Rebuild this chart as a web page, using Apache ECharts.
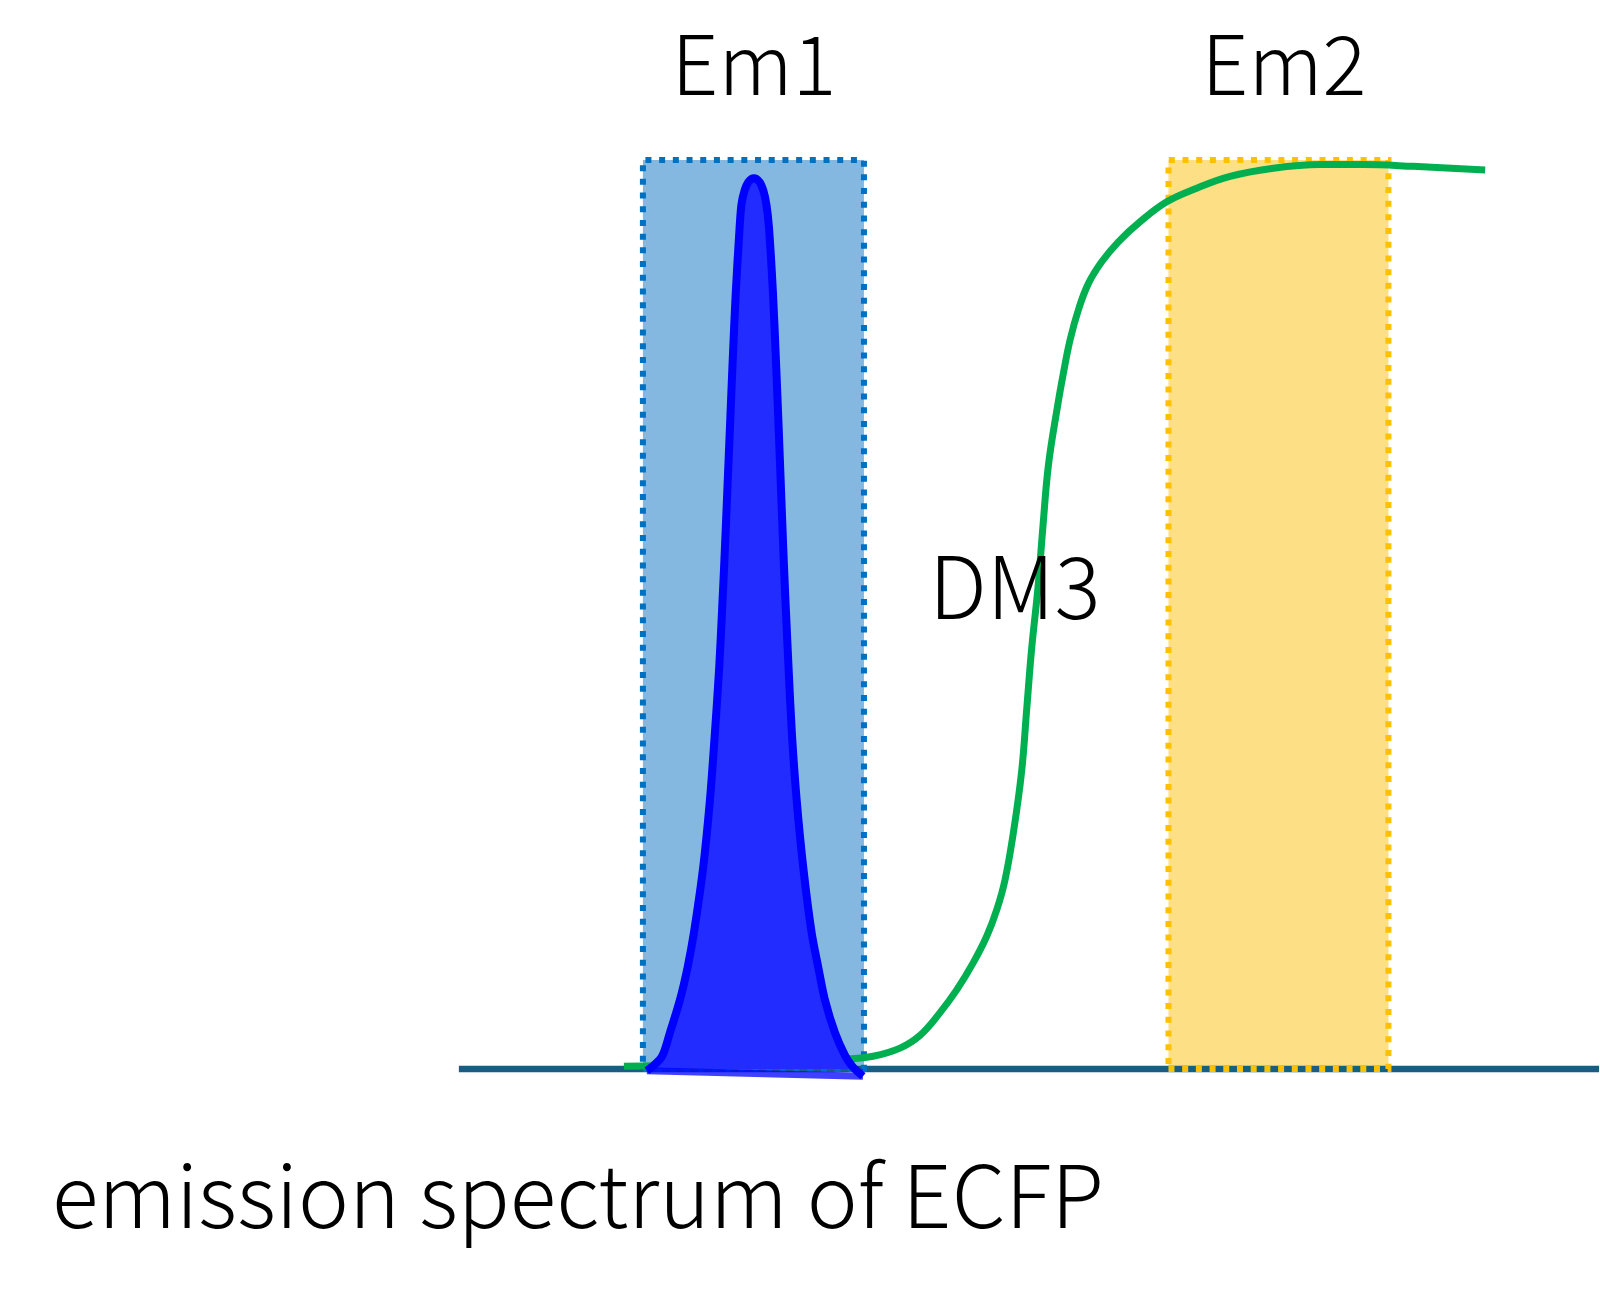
<!DOCTYPE html>
<html>
<head>
<meta charset="utf-8">
<title>emission spectrum of ECFP</title>
<script src="https://cdn.jsdelivr.net/npm/echarts@6/dist/echarts.min.js"></script>
<style>
  html, body { margin: 0; padding: 0; background: #fff; }
  #chart { width: 1600px; height: 1304px; }
</style>
</head>
<body>
<div id="chart"></div>
<script>
// x: wavelength (nm), y: normalised intensity / transmission
var bandNames = ['Em1', 'Em2'];
var bandFrom = [455, 550.1];
var bandTo = [495, 589.9];

// ECFP emission peak (left foot -> top -> right foot)
var peakX = [455.72, 458.38, 459.89, 461.70, 463.09, 464.23, 465.91, 467.13, 468.03, 468.81,
    469.35, 469.75, 470.26, 470.75, 471.25, 471.80, 472.50, 472.83, 473.37, 474.10,
    475.09, 476.09, 476.81, 477.35, 477.81, 478.53, 479.07, 479.56, 480.01, 480.48,
    480.85, 481.35, 481.95, 482.82, 484.01, 485.53, 486.73, 487.94, 489.75, 491.56,
    493.01, 494.82];
var peakY = [-0.002, 0.013, 0.040, 0.076, 0.112, 0.150, 0.222, 0.296, 0.370, 0.442,
    0.508, 0.560, 0.634, 0.706, 0.780, 0.854, 0.926, 0.951, 0.966, 0.976,
    0.980, 0.976, 0.966, 0.951, 0.926, 0.854, 0.780, 0.706, 0.634, 0.560,
    0.508, 0.442, 0.370, 0.296, 0.222, 0.150, 0.112, 0.076, 0.040, 0.015,
    0.002, -0.008];

// DM3 dichroic mirror curve
var dm3X = [451.56, 474.37, 491.74, 496.63, 501.52, 505.14, 508.76, 511.78, 514.78, 517.21,
    519.02, 520.52, 522.06, 523.54, 524.45, 525.35, 526.49, 527.40, 528.39, 530.02,
    531.07, 532.29, 533.79, 535.60, 538.02, 541.03, 544.95, 549.79, 555.22, 561.24,
    569.08, 577.53, 585.37, 594.42, 607.40];
var dm3Y = [0.003, 0.006, 0.011, 0.014, 0.023, 0.037, 0.062, 0.087, 0.117, 0.146,
    0.175, 0.208, 0.261, 0.328, 0.396, 0.463, 0.530, 0.598, 0.665, 0.729,
    0.765, 0.802, 0.835, 0.864, 0.888, 0.910, 0.932, 0.954, 0.969, 0.982,
    0.991, 0.995, 0.995, 0.993, 0.989];

var baseX = [421.7, 628];

var bandFill = ['#85B8E0', '#FDDF85'];
var bandBorder = ['#0070C0', '#FFC000'];
var font = '"Noto Sans CJK JP", "Noto Sans", sans-serif';

function pairs(xs, ys) {
    var out = [];
    for (var i = 0; i < xs.length; i++) {
        out.push([xs[i], ys[i]]);
    }
    return out;
}

function bandAreas(withFill) {
    var out = [];
    for (var i = 0; i < bandNames.length; i++) {
        out.push([{
            name: bandNames[i],
            xAxis: bandFrom[i],
            yAxis: 0,
            itemStyle: withFill ? { color: bandFill[i], borderWidth: 0 } : {
                color: 'rgba(0,0,0,0)',
                borderColor: bandBorder[i],
                borderWidth: 6,
                borderType: [6, 7.7]
            }
        }, { xAxis: bandTo[i], yAxis: 1 }]);
    }
    return out;
}

function label(text, x, y, size, align) {
    return {
        type: 'text', x: x, y: y, z: 10,
        style: {
            text: text, font: '300 ' + size + 'px ' + font, fill: '#000',
            textAlign: align, textVerticalAlign: 'top'
        }
    };
}

var chart = echarts.init(document.getElementById('chart'));
chart.setOption({
    animation: false,
    backgroundColor: '#fff',
    grid: { left: 455, right: 1, top: 160, bottom: 235 },
    xAxis: {
        type: 'value', min: 421, max: 628,
        axisLine: { show: false }, axisTick: { show: false },
        axisLabel: { show: false }, splitLine: { show: false }
    },
    yAxis: {
        type: 'value', min: 0, max: 1,
        axisLine: { show: false }, axisTick: { show: false },
        axisLabel: { show: false }, splitLine: { show: false }
    },
    graphic: [
        label(bandNames[0], 754, 23, 82, 'center'),
        label(bandNames[1], 1284, 23, 82, 'center'),
        label('DM3', 929, 543, 86, 'left'),
        label('emission spectrum of ECFP', 52, 1152, 86, 'left')
    ],
    series: [{
        name: 'bandFill',
        type: 'line',
        data: [],
        markArea: { silent: true, z: 1, label: { show: false }, data: bandAreas(true) }
    }, {
        name: 'baseline',
        type: 'line',
        z: 2,
        showSymbol: false,
        clip: false,
        data: pairs(baseX, [0, 0]),
        lineStyle: { color: '#156082', width: 6.5 }
    }, {
        name: 'bandBorder',
        type: 'line',
        data: [],
        markArea: { silent: true, z: 3, label: { show: false }, data: bandAreas(false) }
    }, {
        name: 'DM3',
        type: 'line',
        z: 4,
        smooth: 0.4,
        showSymbol: false,
        clip: false,
        data: pairs(dm3X, dm3Y),
        lineStyle: { color: '#00B050', width: 7 }
    }, {
        name: 'ECFP',
        type: 'line',
        z: 5,
        smooth: 0.3,
        showSymbol: false,
        clip: false,
        data: pairs(peakX, peakY),
        lineStyle: { color: '#0000FF', width: 8 },
        areaStyle: { color: '#222CFF', opacity: 1 }
    }, {
        name: 'ECFP foot',
        type: 'line',
        z: 5,
        showSymbol: false,
        clip: false,
        data: [[peakX[peakX.length - 1], peakY[peakY.length - 1]], [peakX[0], peakY[0]]],
        lineStyle: { color: '#0000FF', width: 7, opacity: 0.75 }
    }]
});
</script>
</body>
</html>
